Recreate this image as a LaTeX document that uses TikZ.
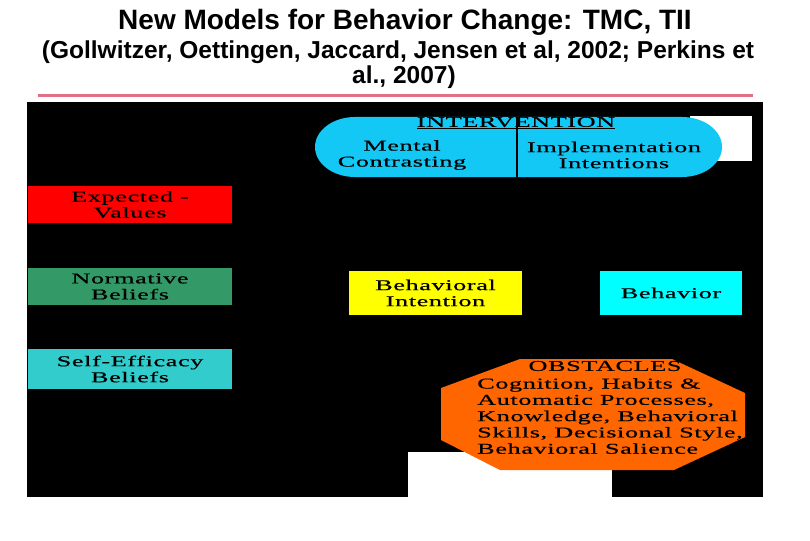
\documentclass[tikz,border=0pt]{standalone}
\usepackage{fontspec}
\setmainfont{Liberation Serif}
\newfontfamily\headfont{Liberation Sans}
\newfontfamily\dfont[FakeStretch=1.75,LetterSpace=4,FakeBold=0.5]{Liberation Serif}
\definecolor{pinkc}{RGB}{224,112,133}
\definecolor{intc}{RGB}{20,200,245}
\definecolor{evc}{RGB}{255,0,0}
\definecolor{nbc}{RGB}{51,153,102}
\definecolor{sec}{RGB}{51,204,204}
\definecolor{bic}{RGB}{255,255,0}
\definecolor{behc}{RGB}{0,255,255}
\definecolor{obsc}{RGB}{255,102,0}
\tikzset{
  titlef/.style={font=\headfont\bfseries\fontsize{28}{30}\selectfont, inner sep=0pt},
  subf/.style={font=\headfont\bfseries\fontsize{24.5}{25}\selectfont, inner sep=0pt, align=center},
  dtext/.style={font=\dfont\fontsize{15}{16}\selectfont, inner sep=0pt, align=center, text=black},
  factor/.style={dtext, minimum width=204pt, inner sep=0pt},
}
\begin{document}
\begin{tikzpicture}[x=1pt,y=-1pt]
\useasboundingbox (0,0) rectangle (810,540);
\fill[white] (0,0) rectangle (810,540);
% titles
\node[titlef] (title) at (405,22) {New Models for Behavior Change: TMC, TII};
\node[subf] (sub1) at (398,52) {(Gollwitzer, Oettingen, Jaccard, Jensen et al, 2002; Perkins et};
\node[subf] (sub2) at (404,77) {al., 2007)};
\draw[pinkc, line width=3.5pt] (38,95.5) -- (753,95.5);
% black panel and white patches
\fill[black] (27,102) rectangle (763,497);
\fill[white] (690,116) rectangle (752,161);
\fill[white] (408,452) rectangle (612,497);
% intervention
\fill[intc] (355,117) -- (682,117) arc[start angle=-90, end angle=90, x radius=40, y radius=30]
  -- (355,177) arc[start angle=90, end angle=270, x radius=40, y radius=30] -- cycle;
\draw[black, line width=1.2pt] (517,117) -- (517,177);
\node[dtext] (intt) at (516,123) {\underline{INTERVENTION}};
\node[dtext] (mc) at (402,155) {Mental\\Contrasting};
\node[dtext] (ii) at (614,155) {Implementation\\Intentions};
% factor boxes
\node[factor, fill=evc, minimum height=37pt] (ev) at (130,204.5) {Expected -\\Values};
\node[factor, fill=nbc, minimum height=37pt] (nb) at (130,286.5) {Normative\\Beliefs};
\node[factor, fill=sec, minimum height=40pt] (se) at (130,369) {Self-Efficacy\\Beliefs};
% intention and behavior
\node[dtext, fill=bic, minimum width=173pt, minimum height=44pt] (bi) at (435.5,293) {Behavioral\\Intention};
\node[dtext, fill=behc, minimum width=142pt, minimum height=44pt] (beh) at (671,293) {Behavior};
% obstacles
\fill[obsc] (520,359) -- (672,359) -- (745,393) -- (745,437) -- (674,470) -- (500,470) -- (441,440) -- (441,388) -- cycle;
\node[dtext] (obt) at (605,366) {OBSTACLES};
\node[dtext, align=left, anchor=west, font=\dfont\fontsize{15}{16.3}\selectfont] (obx) at (477,416)
  {Cognition, Habits \&\\Automatic Processes,\\Knowledge, Behavioral\\Skills, Decisional Style,\\Behavioral Salience};
\end{tikzpicture}
\end{document}
